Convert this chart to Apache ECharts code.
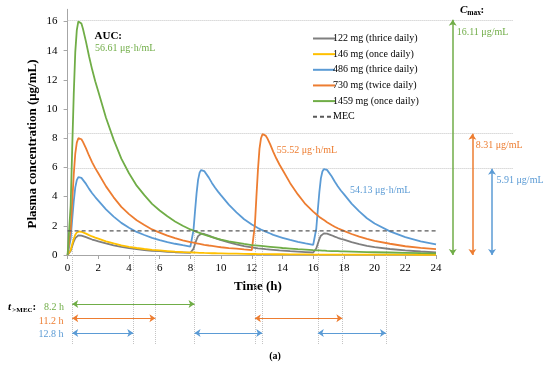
<!DOCTYPE html>
<html><head><meta charset="utf-8">
<script src="https://cdn.jsdelivr.net/npm/echarts@6/dist/echarts.min.js"></script>
<style>html,body{margin:0;padding:0;background:#fff}#c{width:550px;height:368px}</style>
</head><body><div id="c"></div>
<script>
// ---- data ----
const hours = [
  0,0.1,0.2,0.3,0.4,0.5,0.6,0.7,0.75,0.8,
  0.9,1,1.2,1.4,1.6,1.8,2,2.5,3,3.5,
  4,4.5,5,5.5,6,6.5,7,7.5,8,8.1,
  8.2,8.3,8.4,8.5,8.6,8.7,8.75,8.8,8.9,9,
  9.2,9.4,9.6,9.8,10,10.5,11,11.5,12,12.1,
  12.2,12.3,12.4,12.5,12.6,12.7,12.75,12.8,12.9,13,
  13.2,13.4,13.6,13.8,14,14.5,15,15.5,16,16.1,
  16.2,16.3,16.4,16.5,16.6,16.7,16.75,16.8,16.9,17,
  17.2,17.4,17.6,17.8,18,18.5,19,19.5,20,21,
  22,23,24];
const conc122 = [
  0,0,0.28,0.61,0.92,1.16,1.29,1.34,1.35,1.35,
  1.33,1.30,1.22,1.14,1.06,1.00,0.94,0.79,0.66,0.55,
  0.47,0.40,0.34,0.29,0.26,0.22,0.19,0.17,0.15,0.14,
  0.42,0.75,1.05,1.29,1.42,1.46,1.47,1.46,1.44,1.41,
  1.33,1.24,1.16,1.09,1.02,0.87,0.73,0.61,0.52,0.51,
  0.49,0.48,0.46,0.45,0.44,0.43,0.42,0.41,0.40,0.39,
  0.37,0.35,0.33,0.31,0.30,0.26,0.23,0.20,0.17,0.17,
  0.45,0.77,1.08,1.32,1.44,1.48,1.49,1.49,1.47,1.43,
  1.35,1.26,1.18,1.11,1.05,0.88,0.75,0.63,0.54,0.41,
  0.31,0.24,0.18];
const conc146 = [
  0,0,0.34,0.73,1.10,1.39,1.54,1.60,1.61,1.61,
  1.59,1.55,1.46,1.36,1.27,1.19,1.12,0.94,0.79,0.66,
  0.56,0.48,0.41,0.35,0.31,0.27,0.23,0.20,0.18,0.17,
  0.17,0.16,0.16,0.16,0.15,0.15,0.15,0.14,0.14,0.14,
  0.13,0.12,0.12,0.11,0.11,0.09,0.09,0.08,0.07,0.07,
  0.07,0.07,0.06,0.06,0.06,0.06,0.06,0.06,0.06,0.06,
  0.06,0.05,0.05,0.05,0.05,0.04,0.04,0.04,0.03,0.03,
  0.03,0.03,0.03,0.03,0.03,0.03,0.03,0.03,0.03,0.03,
  0.03,0.03,0.03,0.03,0.02,0.02,0.02,0.02,0.02,0.02,
  0.02,0.01,0.01];
const conc486 = [
  0,0,1.13,2.43,3.67,4.63,5.13,5.33,5.37,5.36,
  5.28,5.17,4.87,4.53,4.23,3.97,3.73,3.13,2.63,2.20,
  1.87,1.58,1.37,1.17,1.02,0.88,0.77,0.67,0.58,0.57,
  1.69,2.98,4.20,5.15,5.64,5.82,5.85,5.83,5.75,5.62,
  5.30,4.94,4.62,4.34,4.08,3.45,2.92,2.45,2.09,2.03,
  1.97,1.91,1.85,1.79,1.74,1.70,1.68,1.65,1.60,1.56,
  1.47,1.38,1.31,1.24,1.18,1.03,0.90,0.79,0.69,0.68,
  1.80,3.08,4.30,5.25,5.72,5.89,5.91,5.90,5.83,5.70,
  5.39,5.03,4.71,4.42,4.17,3.52,2.99,2.52,2.16,1.62,
  1.23,0.94,0.73];
const conc730 = [
  0,0,1.70,3.65,5.50,6.95,7.70,8.00,8.06,8.04,
  7.93,7.75,7.30,6.80,6.35,5.95,5.60,4.70,3.95,3.30,
  2.80,2.38,2.05,1.75,1.53,1.33,1.15,1.00,0.88,0.86,
  0.84,0.82,0.80,0.78,0.76,0.74,0.73,0.72,0.70,0.68,
  0.65,0.62,0.59,0.56,0.53,0.47,0.43,0.38,0.34,0.34,
  2.03,3.98,5.82,7.27,8.00,8.28,8.31,8.29,8.18,8.02,
  7.58,7.07,6.61,6.20,5.84,4.92,4.15,3.48,2.97,2.87,
  2.79,2.70,2.61,2.53,2.46,2.39,2.36,2.32,2.25,2.19,
  2.06,1.94,1.83,1.74,1.65,1.44,1.26,1.10,0.97,0.77,
  0.60,0.49,0.40];
const conc1459 = [
  0,0,3.4,7.3,11.0,13.9,15.4,16.0,16.11,16.07,
  15.85,15.5,14.6,13.6,12.7,11.9,11.2,9.4,7.9,6.6,
  5.6,4.75,4.1,3.5,3.05,2.65,2.3,2.0,1.75,1.71,
  1.67,1.63,1.59,1.55,1.51,1.47,1.45,1.43,1.40,1.36,
  1.29,1.23,1.17,1.11,1.05,0.94,0.85,0.76,0.68,0.67,
  0.66,0.65,0.64,0.63,0.62,0.61,0.605,0.60,0.59,0.58,
  0.56,0.54,0.52,0.50,0.48,0.44,0.40,0.365,0.33,0.325,
  0.32,0.315,0.31,0.305,0.30,0.295,0.293,0.29,0.285,0.28,
  0.27,0.265,0.26,0.25,0.245,0.23,0.215,0.20,0.19,0.17,
  0.15,0.13,0.115];
const seriesNames = ['122 mg (thrice daily)','146 mg (once daily)','486 mg (thrice daily)','730 mg (twice daily)','1459 mg (once daily)'];
const mecName = 'MEC';
const mecValue = 1.65;
const xTicks = [0,2,4,6,8,10,12,14,16,18,20,22,24];
const yTicks = [0,2,4,6,8,10,12,14,16];
// Cmax (green, orange, blue)
const cmaxValues = [16.11, 8.31, 5.91];
const cmaxLabels = ['16.11 μg/mL','8.31 μg/mL','5.91 μg/mL'];
const aucLabels = ['56.61 μg·h/mL','55.52 μg·h/mL','54.13 μg·h/mL'];
const tMecLabels = ['8.2 h','11.2 h','12.8 h'];
// time intervals above MEC (h)
const aboveGreen = [[0.3, 8.27]];
const aboveOrange = [[0.3, 5.72],[12.2, 17.9]];
const aboveBlue = [[0.3, 4.28],[8.27, 12.68],[16.3, 20.74]];

// ---- styling ----
const FONT = '"Liberation Serif", "Times New Roman", serif';
const C = {grey:'#7f7f7f', yellow:'#ffc000', blue:'#5b9bd5', orange:'#ed7d31', green:'#70ad47', mec:'#595959', dot:'#c4c4c4', axis:'#a6a6a6'};
const seriesColors = [C.grey, C.yellow, C.blue, C.orange, C.green];
const concs = [conc122, conc146, conc486, conc730, conc1459];

const G_LEFT = 67.6, G_TOP = 9.3, G_BOTTOM = 113, PX_PER_H = 15.35;
const Y_MAX = 16.83, EXT_MAX = 29;
const rowLevel = [49, 63.3, 78]; // rows of the t>MEC arrows in the lower grid
const cmaxArrowX = [25.09, 26.37, 27.65];

const pairs = ys => hours.map((h, i) => [h, ys[i]]);

const series = [];
concs.forEach((ys, i) => {
  series.push({name: seriesNames[i], type:'line', xAxisIndex:0, yAxisIndex:0, data: pairs(ys),
    symbol:'none', smooth:false, lineStyle:{color: seriesColors[i], width:1.8}, itemStyle:{color: seriesColors[i]}, z: 3 + i});
});
series.push({name: mecName, type:'line', xAxisIndex:0, yAxisIndex:0, data:[[0, mecValue],[24, mecValue]],
  symbol:'none', lineStyle:{color:C.mec, width:1.4, type:[4,3]}, itemStyle:{color:C.mec}, z: 9});

// vertical dotted guides at t>MEC interval ends
const ends = [];
[aboveGreen, aboveOrange, aboveBlue].forEach(list => list.forEach(([a,b]) => { [a,b].forEach(v => { if (!ends.includes(v)) ends.push(v); }); }));
series.push({type:'lines', coordinateSystem:'cartesian2d', xAxisIndex:0, yAxisIndex:0, silent:true, z:2,
  lineStyle:{color:C.dot, width:1, type:'dotted', opacity:1}, symbol:'none',
  data: ends.map(t => ({coords:[[t, mecValue],[t, 0]]}))});
series.push({type:'lines', coordinateSystem:'cartesian2d', xAxisIndex:2, yAxisIndex:2, silent:true, z:2,
  lineStyle:{color:C.dot, width:1, type:'dotted', opacity:1}, symbol:'none',
  data: ends.map(t => ({coords:[[t, 0],[t, 90]]}))});
// t>MEC arrows
[[aboveGreen, C.green],[aboveOrange, C.orange],[aboveBlue, C.blue]].forEach(([list, col], r) => {
  series.push({type:'lines', coordinateSystem:'cartesian2d', xAxisIndex:2, yAxisIndex:2, silent:true, z:4,
    symbol:['arrow','arrow'], symbolSize:6,
    lineStyle:{color:col, width:1.2, opacity:1}, itemStyle:{color:col},
    data: list.map(([a,b]) => ({coords:[[a, rowLevel[r]],[b, rowLevel[r]]]}))});
});
// Cmax dotted guides and arrows (extended grid)
series.push({type:'lines', coordinateSystem:'cartesian2d', xAxisIndex:1, yAxisIndex:1, silent:true, z:1,
  lineStyle:{color:C.dot, width:1, type:'dotted', opacity:1}, symbol:'none',
  data: cmaxValues.map(v => ({coords:[[0, v],[EXT_MAX, v]]}))});
[C.green, C.orange, C.blue].forEach((col, i) => {
  series.push({type:'lines', coordinateSystem:'cartesian2d', xAxisIndex:1, yAxisIndex:1, silent:true, z:4,
    symbol:['arrow','arrow'], symbolSize:6,
    lineStyle:{color:col, width:1.5, opacity:1}, itemStyle:{color:col},
    data:[{coords:[[cmaxArrowX[i], 0],[cmaxArrowX[i], cmaxValues[i]]]}]});
});

const txt = (x, y, text, font, fill, align, extra) => Object.assign({type:'text', x, y, silent:true,
  style:{text, font, fill, textAlign: align || 'left', align: align || 'left', textVerticalAlign:'middle', verticalAlign:'middle'}}, extra || {});

const graphic = [
  txt(33, 144, 'Plasma concentration (μg/mL)', 'bold 13px ' + FONT, '#000', 'center', {rotation: Math.PI/2}),
  txt(258, 286.7, 'Time (h)', 'bold 13px ' + FONT, '#000', 'center'),
  txt(94.5, 36.5, 'AUC:', 'bold 11px ' + FONT, '#000'),
  txt(95, 48.5, aucLabels[0], '10px ' + FONT, C.green),
  txt(276.7, 150.7, aucLabels[1], '10px ' + FONT, C.orange),
  txt(350, 190, aucLabels[2], '10px ' + FONT, C.blue),
  txt(460, 9.8, 'C', 'italic bold 11px ' + FONT, '#000'),
  txt(467.3, 12.8, 'max', 'bold 7.5px ' + FONT, '#000'),
  txt(480.5, 10.5, ':', 'bold 11px ' + FONT, '#000'),
  txt(456.7, 32.5, cmaxLabels[0], '10px ' + FONT, C.green),
  txt(475.7, 145, cmaxLabels[1], '10px ' + FONT, C.orange),
  txt(496.5, 180.7, cmaxLabels[2], '10px ' + FONT, C.blue),
  txt(8, 307.5, 't', 'italic bold 11px ' + FONT, '#000'),
  txt(12.3, 310.5, '>MEC', 'bold 7px ' + FONT, '#000'),
  txt(32.5, 307.5, ':', 'bold 11px ' + FONT, '#000'),
  txt(64, 307, tMecLabels[0], '10px ' + FONT, C.green, 'right'),
  txt(63.5, 321.5, tMecLabels[1], '10px ' + FONT, C.orange, 'right'),
  txt(63.5, 334.3, tMecLabels[2], '10px ' + FONT, C.blue, 'right'),
  txt(275, 356, '(a)', 'bold 10px ' + FONT, '#000', 'center')
];

const chart = echarts.init(document.getElementById('c'), null, {renderer:'canvas'});
chart.setOption({
  animation:false,
  backgroundColor:'#fff',
  textStyle:{fontFamily: FONT},
  grid:[
    {left:G_LEFT, right:550 - G_LEFT - 24*PX_PER_H, top:G_TOP, bottom:G_BOTTOM},
    {left:G_LEFT, right:550 - G_LEFT - EXT_MAX*PX_PER_H, top:G_TOP, bottom:G_BOTTOM},
    {left:G_LEFT, right:550 - G_LEFT - 24*PX_PER_H, top:368 - G_BOTTOM, bottom:23}
  ],
  xAxis:[
    {type:'value', gridIndex:0, min:0, max:24, interval:2,
      axisLine:{show:true, onZero:false, lineStyle:{color:C.axis, width:1}},
      axisTick:{show:true, length:4, customValues:xTicks, lineStyle:{color:C.axis}},
      axisLabel:{customValues:xTicks, color:'#000', fontFamily:FONT, fontSize:11, margin:8},
      splitLine:{show:false}},
    {type:'value', gridIndex:1, min:0, max:EXT_MAX, show:false},
    {type:'value', gridIndex:2, min:0, max:24, show:false}
  ],
  yAxis:[
    {type:'value', gridIndex:0, min:0, max:Y_MAX,
      axisLine:{show:true, onZero:false, lineStyle:{color:C.axis, width:1}},
      axisTick:{show:true, length:4, customValues:yTicks, lineStyle:{color:C.axis}},
      axisLabel:{customValues:yTicks, color:'#000', fontFamily:FONT, fontSize:11, margin:10},
      splitLine:{show:false}},
    {type:'value', gridIndex:1, min:0, max:Y_MAX, show:false},
    {type:'value', gridIndex:2, min:0, max:90, inverse:true, show:false}
  ],
  legend:{
    data:[...seriesNames, mecName], orient:'vertical', left:307, top:28.5,
    itemWidth:22, itemHeight:10, itemGap:5.65,
    itemStyle:{opacity:0, borderWidth:0},
    textStyle:{fontFamily:FONT, fontSize:10, color:'#000', lineHeight:10, padding:[0,0,0,-7]},
    selectedMode:false
  },
  graphic: graphic,
  series: series
});
</script>
</body></html>
